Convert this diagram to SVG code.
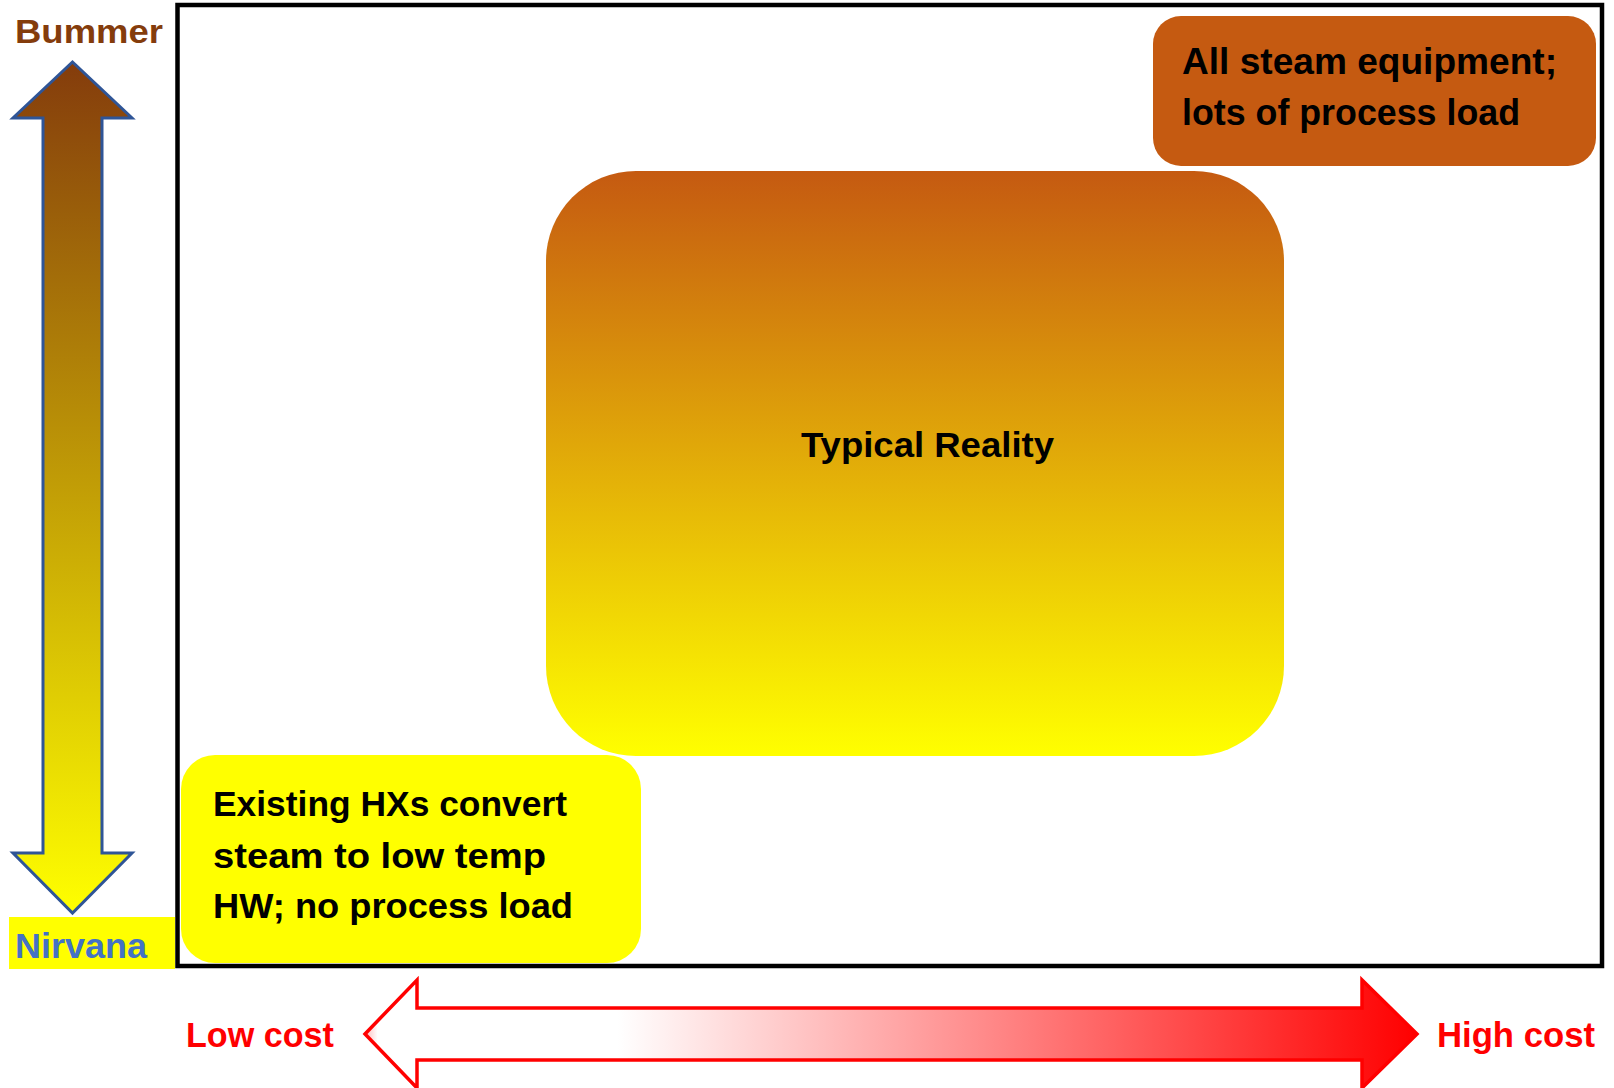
<svg xmlns="http://www.w3.org/2000/svg" width="1614" height="1088" viewBox="0 0 1614 1088">
  <defs>
    <linearGradient id="gVert" x1="0" y1="0" x2="0" y2="1">
      <stop offset="0" stop-color="#843C0C"/>
      <stop offset="1" stop-color="#FFFF00"/>
    </linearGradient>
    <linearGradient id="gMid" x1="0" y1="0" x2="0" y2="1">
      <stop offset="0" stop-color="#C55A11"/>
      <stop offset="1" stop-color="#FFFF00"/>
    </linearGradient>
    <linearGradient id="gHoriz" x1="0" y1="0" x2="1" y2="0">
      <stop offset="0" stop-color="#FFB8B8"/>
      <stop offset="0.012" stop-color="#FFFFFF"/>
      <stop offset="0.24" stop-color="#FFFFFF"/>
      <stop offset="1" stop-color="#FF0000"/>
    </linearGradient>
    <style>
      .lbl { font-family: "Liberation Sans", Arial, sans-serif; font-weight: bold; }
      .box { font-family: "Liberation Sans", Arial, sans-serif; font-weight: bold; fill: #000; }
    </style>
  </defs>
  <rect width="1614" height="1088" fill="#FFFFFF"/>

  <g id="nirvana-label">
    <rect x="9" y="917" width="166" height="52" fill="#FFFF00"/>
    <text class="lbl" x="15" y="958" font-size="35" fill="#4472C4" textLength="132" lengthAdjust="spacingAndGlyphs">Nirvana</text>
  </g>

  <g id="frame">
    <rect x="177.5" y="5" width="1424.5" height="961" fill="none" stroke="#000000" stroke-width="4.5"/>
  </g>

  <g id="bummer-label">
    <text class="lbl" x="15" y="43" font-size="33" fill="#843C0C" textLength="148" lengthAdjust="spacingAndGlyphs">Bummer</text>
  </g>

  <g id="connectors">
    <polygon id="vertical-arrow" points="72.5,62 132,118 102,118 102,853 132,853 72.5,913 13,853 43,853 43,118 13,118" fill="url(#gVert)" stroke="#2F5597" stroke-width="3" stroke-linejoin="miter"/>
    <polygon id="horizontal-arrow" points="365,1034 417,980 417,1008 1362,1008 1362,980 1417,1034 1362,1088 1362,1060 417,1060 417,1088" fill="url(#gHoriz)" stroke="#FF0000" stroke-width="3.5" stroke-linejoin="miter"/>
  </g>

  <g id="low-cost-label">
    <text class="lbl" x="186" y="1047" font-size="35" fill="#FF0000" textLength="148" lengthAdjust="spacingAndGlyphs">Low cost</text>
  </g>
  <g id="high-cost-label">
    <text class="lbl" x="1437" y="1047" font-size="35" fill="#FF0000" textLength="158" lengthAdjust="spacingAndGlyphs">High cost</text>
  </g>

  <g id="typical-reality">
    <rect x="546" y="171" width="738" height="585" rx="90" ry="90" fill="url(#gMid)"/>
    <text class="box" x="801" y="457" font-size="35" textLength="253" lengthAdjust="spacingAndGlyphs">Typical Reality</text>
  </g>

  <g id="all-steam">
    <rect x="1153" y="16" width="443" height="150" rx="28" ry="28" fill="#C55A11"/>
    <text class="box" x="1182" y="74" font-size="37" textLength="375" lengthAdjust="spacingAndGlyphs">All steam equipment;</text>
    <text class="box" x="1182" y="125" font-size="37" textLength="338" lengthAdjust="spacingAndGlyphs">lots of process load</text>
  </g>

  <g id="existing-hx">
    <rect x="181" y="755" width="460" height="208" rx="34" ry="34" fill="#FFFF00"/>
    <text class="box" x="213" y="816" font-size="35" textLength="354" lengthAdjust="spacingAndGlyphs">Existing HXs convert</text>
    <text class="box" x="213" y="868" font-size="35" textLength="333" lengthAdjust="spacingAndGlyphs">steam to low temp</text>
    <text class="box" x="213" y="918" font-size="35" textLength="360" lengthAdjust="spacingAndGlyphs">HW; no process load</text>
  </g>
</svg>
